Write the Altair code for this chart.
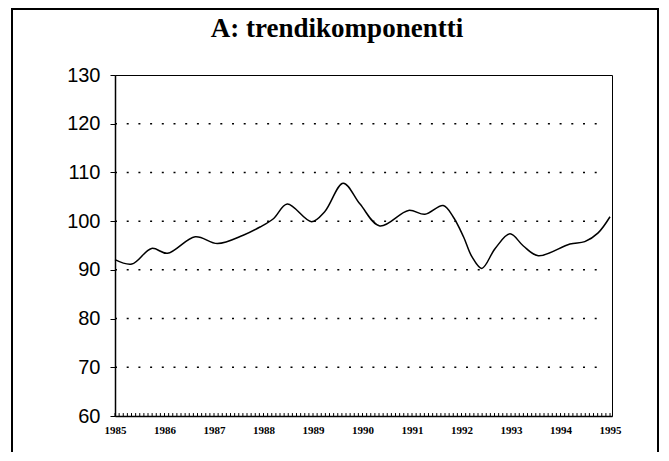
import altair as alt
import pandas as pd

title_text = "A: trendikomponentti"

years = [1985.00, 1985.34, 1985.74, 1986.06, 1986.62, 1987.07, 1987.59, 1987.93,
         1988.20, 1988.48, 1988.97, 1989.24, 1989.61, 1989.95, 1990.35, 1990.93,
         1991.26, 1991.63, 1991.83, 1992.04, 1992.21, 1992.41, 1992.68, 1992.98,
         1993.25, 1993.55, 1994.19, 1994.49, 1994.76, 1995.00]
values = [92.1, 91.2, 94.4, 93.4, 96.8, 95.4, 97.1, 98.8,
          100.5, 103.5, 99.9, 102.0, 107.8, 103.5, 99.0, 102.2,
          101.4, 103.2, 100.9, 96.8, 92.7, 90.3, 94.4, 97.4,
          94.9, 92.9, 95.3, 95.8, 97.6, 100.9]

year_labels = list(range(1985, 1996))
y_ticks = list(range(60, 131, 5))
grid_values = [70, 80, 90, 100, 110, 120]
month_ticks = [1985 + k / 12 for k in range(0, 121)]

df = pd.DataFrame({"year": years, "value": values})
grid_df = pd.DataFrame({"g": grid_values, "x0": 1985.0, "x1": 1994.82})
month_df = pd.DataFrame({"m": month_ticks, "y0": 60.0, "y1": 60.6})
title_df = pd.DataFrame({"t": [title_text]})

xscale = alt.Scale(domain=[1985, 1995.04], nice=False, zero=False)
yscale = alt.Scale(domain=[60, 130], nice=False, zero=False)

line = alt.Chart(df).mark_line(color="black", strokeWidth=1.5, interpolate="catmull-rom").encode(
    x=alt.X("year:Q", scale=xscale,
            axis=alt.Axis(values=year_labels, format="d", title=None, grid=False, ticks=False,
                          domainColor="black", domainWidth=1.5,
                          labelFont="Liberation Serif", labelFontWeight="bold", labelFontSize=11,
                          labelColor="black", labelPadding=8, labelFlush=False)),
    y=alt.Y("value:Q", scale=yscale,
            axis=alt.Axis(values=y_ticks, title=None, grid=False, tickSize=5, tickColor="black",
                          domainColor="black", domainWidth=1.5,
                          labelExpr="datum.value % 10 == 0 ? datum.label : ''",
                          labelFont="Liberation Sans", labelFontSize=20, labelColor="black",
                          labelPadding=10)),
)

grid = alt.Chart(grid_df).mark_rule(color="black", strokeWidth=1.5, strokeDash=[2, 9.7]).encode(
    x=alt.X("x0:Q", scale=xscale), x2="x1:Q",
    y=alt.Y("g:Q", scale=yscale),
)

minor = alt.Chart(month_df).mark_rule(color="black", strokeWidth=1).encode(
    x=alt.X("m:Q", scale=xscale),
    y=alt.Y("y0:Q", scale=yscale), y2="y1:Q",
)

frame = alt.Chart(title_df).mark_rect(fillOpacity=0, stroke="black", strokeWidth=2).encode(
    x=alt.value(-103), x2=alt.value(543), y=alt.value(-66), y2=alt.value(430),
)

title = alt.Chart(title_df).mark_text(
    font="Liberation Serif", fontWeight="bold", fontSize=27, color="black",
    align="center", baseline="alphabetic",
).encode(text="t:N", x=alt.value(222), y=alt.value(-38))

chart = alt.layer(grid, minor, line, frame, title).properties(
    width=497, height=341,
    autosize=alt.AutoSizeParams(type="none"),
    padding={"left": 107, "top": 67, "right": 47, "bottom": 36},
).configure_view(stroke="black", strokeWidth=1)

chart.save("out.html", embed_options={"renderer": "svg", "actions": False})
